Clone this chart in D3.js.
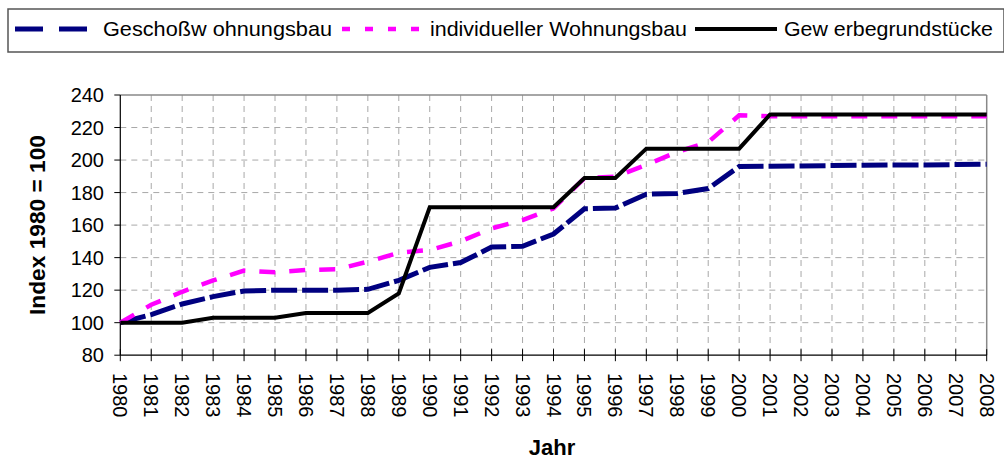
<!DOCTYPE html>
<html>
<head>
<meta charset="utf-8">
<script src="https://cdn.jsdelivr.net/npm/d3@7"></script>
<style>
  body { margin: 0; background: #fff; }
  text { font-family: "Liberation Sans", Arial, sans-serif; }
</style>
</head>
<body>
<svg id="chart" width="1004" height="462"></svg>
<script>
const years = d3.range(1980, 2009)

const geschoss = [100, 105, 111.5, 116, 119.5, 120, 120, 120, 120.5, 126, 134, 137, 146.5, 147, 154.5,
  170, 170.5, 179, 179.5, 182.5, 196, 196.2, 196.4, 196.6, 196.8, 197, 197, 197.2, 197.4]
const individuell = [100, 111, 119, 126, 132, 131, 132.4, 132.8, 137.5, 143, 144.7, 150, 158, 163, 170.3,
  188.8, 189.8, 197, 205, 211, 227.5, 227, 227, 227, 227, 227, 227, 227, 227]
const gewerbe = [100, 100, 100, 103, 103, 103, 106, 106, 106, 118, 171, 171, 171, 171, 171,
  189, 189, 207, 207, 207, 207, 228, 228, 228, 228, 228, 228, 228, 228]

const yTicks = [80, 100, 120, 140, 160, 180, 200, 220, 240]

const series = [
  { name: "Geschoßw ohnungsbau", values: geschoss, color: "#000080", width: 5, dash: "26,5", legendDash: "28,16" },
  { name: "individueller Wohnungsbau", values: individuell, color: "#ff00ff", width: 4.5, dash: "16,14", legendDash: "8,15" },
  { name: "Gew erbegrundstücke", values: gewerbe, color: "#000000", width: 4, dash: null, legendDash: null }
]

const svg = d3.select("#chart")
const plotL = 120.3, plotR = 986.7, plotT = 95, plotB = 355.2

const x = d3.scaleLinear().domain([1980, 2008]).range([plotL, plotR])
const y = d3.scaleLinear().domain([80, 240]).range([plotB, plotT])

// grid
const grid = svg.append("g").attr("stroke", "#a8a8a8").attr("stroke-width", 1).attr("stroke-dasharray", "6,5")
grid.selectAll("line.h")
  .data(yTicks.filter((t) => t > 80 && t < 240))
  .join("line")
  .attr("class", "h")
  .attr("x1", plotL).attr("x2", plotR)
  .attr("y1", (d) => y(d)).attr("y2", (d) => y(d))
grid.selectAll("line.v")
  .data(years.slice(1, -1))
  .join("line")
  .attr("class", "v")
  .attr("x1", (d) => x(d)).attr("x2", (d) => x(d))
  .attr("y1", plotT).attr("y2", plotB)

// frame top/right
svg.append("line").attr("x1", plotL).attr("x2", plotR).attr("y1", plotT).attr("y2", plotT)
  .attr("stroke", "#888").attr("stroke-width", 1.5)
svg.append("line").attr("x1", plotR).attr("x2", plotR).attr("y1", plotT).attr("y2", plotB)
  .attr("stroke", "#888").attr("stroke-width", 1.5)

// y axis
const yAxis = svg.append("g")
yAxis.append("line").attr("x1", plotL).attr("x2", plotL).attr("y1", plotT).attr("y2", plotB)
  .attr("stroke", "#000").attr("stroke-width", 1.2)
yAxis.selectAll("line.tick").data(yTicks).join("line")
  .attr("class", "tick")
  .attr("x1", plotL - 6).attr("x2", plotL)
  .attr("y1", (d) => y(d)).attr("y2", (d) => y(d))
  .attr("stroke", "#000").attr("stroke-width", 1)
yAxis.selectAll("text").data(yTicks).join("text")
  .attr("x", 104).attr("y", (d) => y(d))
  .attr("text-anchor", "end").attr("dominant-baseline", "central")
  .attr("font-size", 20).text((d) => d)

// x axis
const xAxis = svg.append("g")
xAxis.append("line").attr("x1", plotL).attr("x2", plotR).attr("y1", plotB).attr("y2", plotB)
  .attr("stroke", "#000").attr("stroke-width", 1.2)
xAxis.selectAll("line.tick").data(years).join("line")
  .attr("class", "tick")
  .attr("x1", (d) => x(d)).attr("x2", (d) => x(d))
  .attr("y1", plotB - 6).attr("y2", plotB + 6)
  .attr("stroke", "#000").attr("stroke-width", 1)
xAxis.selectAll("text").data(years).join("text")
  .attr("transform", (d) => `translate(${x(d)},373) rotate(90)`)
  .attr("text-anchor", "start").attr("dominant-baseline", "central")
  .attr("font-size", 20).text((d) => d)

// axis titles
svg.append("text")
  .attr("transform", "translate(45,225) rotate(-90)")
  .attr("text-anchor", "middle").attr("font-size", 22).attr("font-weight", "bold")
  .attr("textLength", 180).attr("lengthAdjust", "spacingAndGlyphs")
  .text("Index 1980 = 100")
svg.append("text")
  .attr("x", 552).attr("y", 455)
  .attr("text-anchor", "middle").attr("font-size", 22).attr("font-weight", "bold")
  .text("Jahr")

// lines
const line = d3.line().x((d, i) => x(years[i])).y((d) => y(d))
svg.append("g").selectAll("path").data(series).join("path")
  .attr("d", (d) => line(d.values))
  .attr("fill", "none")
  .attr("stroke", (d) => d.color)
  .attr("stroke-width", (d) => d.width)
  .attr("stroke-dasharray", (d) => d.dash)
  .attr("stroke-linejoin", "miter")

// legend
svg.append("rect").attr("x", 8).attr("y", 9).attr("width", 996).attr("height", 43)
  .attr("fill", "none").attr("stroke", "#555").attr("stroke-width", 1.5)
const legendPos = [
  { x1: 15, x2: 87, tx: 103, tw: 229 },
  { x1: 342, x2: 421, tx: 430, tw: 257 },
  { x1: 695, x2: 777, tx: 784, tw: 209 }
]
const leg = svg.append("g").selectAll("g").data(series).join("g")
leg.append("line")
  .attr("x1", (d, i) => legendPos[i].x1).attr("x2", (d, i) => legendPos[i].x2)
  .attr("y1", 29).attr("y2", 29)
  .attr("stroke", (d) => d.color).attr("stroke-width", (d) => d.width)
  .attr("stroke-dasharray", (d) => d.legendDash)
leg.append("text")
  .attr("x", (d, i) => legendPos[i].tx).attr("y", 35.5)
  .attr("font-size", 21)
  .attr("textLength", (d, i) => legendPos[i].tw).attr("lengthAdjust", "spacingAndGlyphs")
  .text((d) => d.name)
</script>
</body>
</html>
